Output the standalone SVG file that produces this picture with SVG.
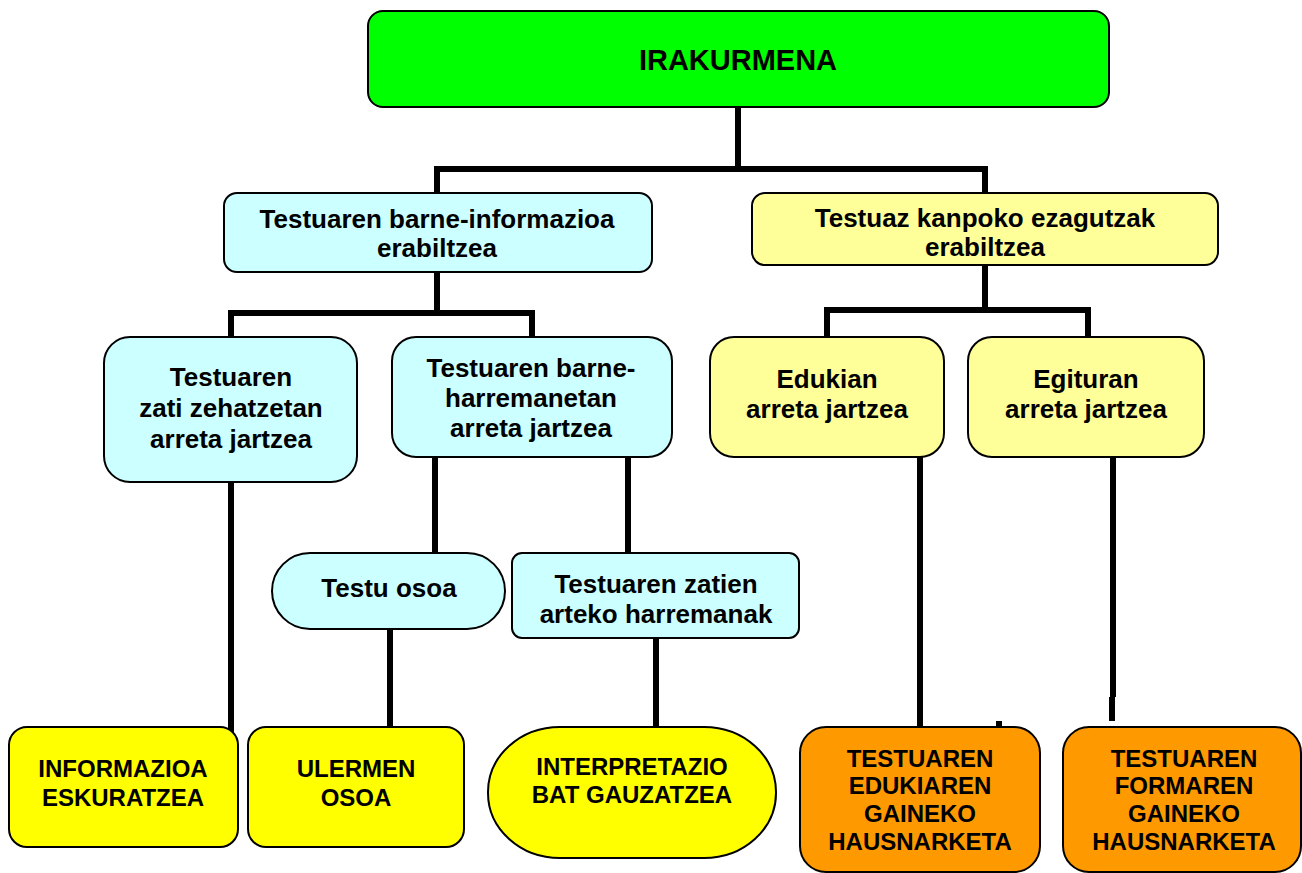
<svg xmlns="http://www.w3.org/2000/svg" width="1302" height="873" viewBox="0 0 1302 873">
<style>
.box{stroke:#000;stroke-width:2}
.green{fill:#00ff00}
.cyan{fill:#ccffff}
.lyel{fill:#ffff99}
.yel{fill:#ffff00}
.org{fill:#ff9900}
text{font-family:"Liberation Sans",Arial,sans-serif;font-weight:bold;fill:#000;text-anchor:middle}
.t29{font-size:29px}
.t26{font-size:26px}
.t24{font-size:24px}
.conn{stroke:#000;stroke-width:6;fill:none;stroke-linecap:butt}
</style>
<rect width="1302" height="873" fill="#fff"/>
<g id="connectors">
<path class="conn" d="M738,107 V169 M437,169 H985 M437,166 V193 M985,166 V193"/>
<path class="conn" d="M437,272 V313 M231,313 H532 M231,310 V337 M532,310 V337"/>
<path class="conn" d="M985,265 V310 M827,310 H1088 M827,307 V337 M1088,307 V337"/>
<path class="conn" d="M231,482 V734"/>
<path class="conn" d="M435,457 V553 M628,457 V553"/>
<path class="conn" d="M390,629 V727"/>
<path class="conn" d="M656,638 V727"/>
<path class="conn" d="M920,457 V727"/>
<path class="conn" d="M999,721 V727"/>
<path class="conn" d="M1113,457 V697 M1112,697 V721"/>
</g>
<g id="irakurmena">
<rect class="box green" x="368" y="11" width="741" height="96" rx="15"/>
<text class="t29" x="738" y="70">IRAKURMENA</text>
</g>
<g id="barne-informazioa">
<rect class="box cyan" x="224" y="193" width="428" height="79" rx="13"/>
<text class="t26" x="437" y="228">Testuaren barne-informazioa</text>
<text class="t26" x="437" y="257">erabiltzea</text>
</g>
<g id="kanpoko-ezagutzak">
<rect class="box lyel" x="752" y="193" width="466" height="72" rx="13"/>
<text class="t26" x="985" y="227">Testuaz kanpoko ezagutzak</text>
<text class="t26" x="985" y="256">erabiltzea</text>
</g>
<g id="zati-zehatzetan">
<rect class="box cyan" x="104" y="337" width="253" height="145" rx="26"/>
<text class="t26" x="231" y="386">Testuaren</text>
<text class="t26" x="231" y="417">zati zehatzetan</text>
<text class="t26" x="231" y="448">arreta jartzea</text>
</g>
<g id="barne-harremanetan">
<rect class="box cyan" x="392" y="337" width="280" height="120" rx="24"/>
<text class="t26" x="531" y="377">Testuaren barne-</text>
<text class="t26" x="531" y="407">harremanetan</text>
<text class="t26" x="531" y="437">arreta jartzea</text>
</g>
<g id="edukian">
<rect class="box lyel" x="710" y="337" width="234" height="120" rx="24"/>
<text class="t26" x="827" y="388">Edukian</text>
<text class="t26" x="827" y="418">arreta jartzea</text>
</g>
<g id="egituran">
<rect class="box lyel" x="968" y="337" width="236" height="120" rx="24"/>
<text class="t26" x="1086" y="388">Egituran</text>
<text class="t26" x="1086" y="418">arreta jartzea</text>
</g>
<g id="testu-osoa">
<rect class="box cyan" x="272" y="553" width="233" height="76" rx="38"/>
<text class="t26" x="389" y="597">Testu osoa</text>
</g>
<g id="zatien-harremanak">
<rect class="box cyan" x="512" y="553" width="287" height="85" rx="10"/>
<text class="t26" x="656" y="593">Testuaren zatien</text>
<text class="t26" x="656" y="623">arteko harremanak</text>
</g>
<g id="informazioa">
<rect class="box yel" x="9" y="727" width="229" height="120" rx="18"/>
<text class="t24" x="123" y="777">INFORMAZIOA</text>
<text class="t24" x="123" y="806">ESKURATZEA</text>
</g>
<g id="ulermen">
<rect class="box yel" x="248" y="727" width="216" height="120" rx="18"/>
<text class="t24" x="356" y="777">ULERMEN</text>
<text class="t24" x="356" y="806">OSOA</text>
</g>
<g id="interpretazio">
<rect class="box yel" x="488" y="727" width="288" height="131" rx="72" ry="65"/>
<text class="t24" x="632" y="775">INTERPRETAZIO</text>
<text class="t24" x="632" y="803">BAT GAUZATZEA</text>
</g>
<g id="edukiaren-hausnarketa">
<rect class="box org" x="800" y="727" width="240" height="145" rx="26"/>
<text class="t24" x="920" y="767">TESTUAREN</text>
<text class="t24" x="920" y="794">EDUKIAREN</text>
<text class="t24" x="920" y="822">GAINEKO</text>
<text class="t24" x="920" y="850">HAUSNARKETA</text>
</g>
<g id="formaren-hausnarketa">
<rect class="box org" x="1063" y="727" width="238" height="145" rx="26"/>
<text class="t24" x="1184" y="767">TESTUAREN</text>
<text class="t24" x="1184" y="794">FORMAREN</text>
<text class="t24" x="1184" y="822">GAINEKO</text>
<text class="t24" x="1184" y="850">HAUSNARKETA</text>
</g>
</svg>
